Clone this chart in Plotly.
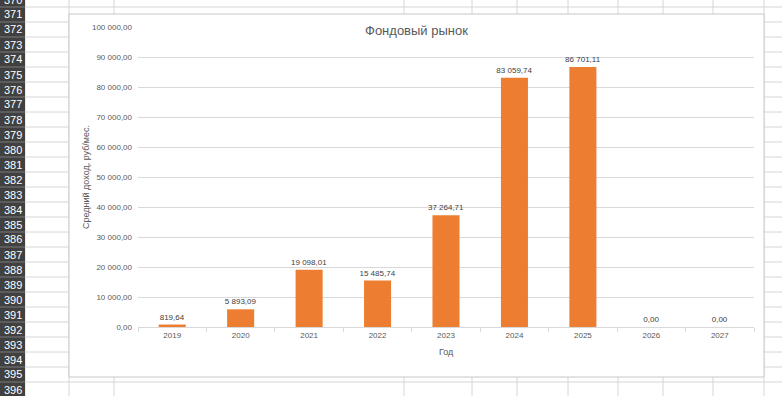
import plotly.graph_objects as go

# ---- chart data ----
years = ["2019", "2020", "2021", "2022", "2023", "2024", "2025", "2026", "2027"]
income = [819.64, 5893.09, 19098.01, 15485.74, 37264.71, 83059.74, 86701.11, 0.00, 0.00]
title_text = "Фондовый рынок"
y_title = "Средний доход, руб/мес."
x_title = "Год"

# ---- spreadsheet decoration (rows / columns around the chart) ----
row_numbers = list(range(370, 397))
col_edges = [25, 69, 114, 404, 472, 517, 568, 618, 663, 713, 764]

W, H = 782, 396
PL, PR, PT, PB = 138, 754, 27, 327  # plot area in pixels
FONT = "Liberation Sans, Arial, sans-serif"


def px(x):
    return (x - PL) / (PR - PL)


def py(y):
    return (PB - y) / (PB - PT)


fig = go.Figure()
fig.add_trace(go.Bar(
    x=years, y=income,
    marker=dict(color="#ED7D31", line=dict(width=0)),
    texttemplate="%{y:,.2f}",
    textposition="outside",
    constraintext="none",
    textfont=dict(size=8, color="#404040", family=FONT),
    cliponaxis=False,
    hoverinfo="skip",
))

shapes = []
annotations = []
grid_c = "#d6d6d6"
# row lines
for k in range(-1, 27):
    yy = 7 + 15 * k
    shapes.append(dict(type="line", xref="paper", yref="paper", layer="below",
                       x0=px(25), x1=px(W), y0=py(yy), y1=py(yy),
                       line=dict(color=grid_c, width=1)))
# column lines
for cx in col_edges:
    shapes.append(dict(type="line", xref="paper", yref="paper", layer="below",
                       x0=px(cx), x1=px(cx), y0=py(-5), y1=py(H + 5),
                       line=dict(color=grid_c, width=1)))
# row header column
shapes.append(dict(type="rect", xref="paper", yref="paper", layer="below",
                   x0=px(0), x1=px(25), y0=py(-5), y1=py(H + 5),
                   fillcolor="#404040", line=dict(width=0)))
for k in range(-1, 27):
    yy = 7 + 15 * k
    shapes.append(dict(type="line", xref="paper", yref="paper", layer="below",
                       x0=px(0), x1=px(25), y0=py(yy), y1=py(yy),
                       line=dict(color="#7a7a7a", width=1)))
for i, n in enumerate(row_numbers):
    cy = -0.5 + 15 * i
    annotations.append(dict(xref="paper", yref="paper", x=px(12.5), y=py(cy),
                            text=str(n), showarrow=False, xanchor="center", yanchor="middle",
                            font=dict(size=11, color="#ffffff", family=FONT)))
# chart area
shapes.append(dict(type="rect", xref="paper", yref="paper", layer="below",
                   x0=px(69), x1=px(764), y0=py(377), y1=py(14),
                   fillcolor="#ffffff", line=dict(color="#c8c8c8", width=1)))

# axis titles
annotations.append(dict(xref="paper", yref="paper", x=px(86), y=0.5, text=y_title,
                        textangle=-90, showarrow=False, xanchor="center", yanchor="middle",
                        font=dict(size=9, color="#595959", family=FONT)))
annotations.append(dict(xref="paper", yref="paper", x=0.5, y=py(352), text=x_title,
                        showarrow=False, xanchor="center", yanchor="middle",
                        font=dict(size=9, color="#595959", family=FONT)))
annotations.append(dict(xref="paper", yref="paper", x=px(416), y=py(30), text=title_text,
                        showarrow=False, xanchor="center", yanchor="middle",
                        font=dict(size=13, color="#595959", family=FONT)))

fig.update_layout(
    width=W, height=H, autosize=False,
    margin=dict(l=PL, r=W - PR, t=PT, b=H - PB, pad=0),
    paper_bgcolor="#ffffff",
    plot_bgcolor="rgba(0,0,0,0)",
    separators=", ",
    showlegend=False,
    bargap=0.605,
    shapes=shapes,
    annotations=annotations,
    font=dict(family=FONT, color="#595959"),
)
fig.update_xaxes(
    type="category", tickson="boundaries", ticks="outside", ticklen=4, tickcolor="#d9d9d9",
    showline=True, linecolor="#d9d9d9", linewidth=1, showgrid=False,
    tickfont=dict(size=8, color="#595959"), fixedrange=True,
)
fig.update_yaxes(
    range=[0, 100000], dtick=10000, tickformat=",.2f",
    showgrid=True, gridcolor="#d9d9d9", gridwidth=1, zeroline=False, showline=False,
    ticks="", ticklabelstandoff=5,
    tickfont=dict(size=8, color="#595959"), fixedrange=True,
)

fig.write_html("out.html")
